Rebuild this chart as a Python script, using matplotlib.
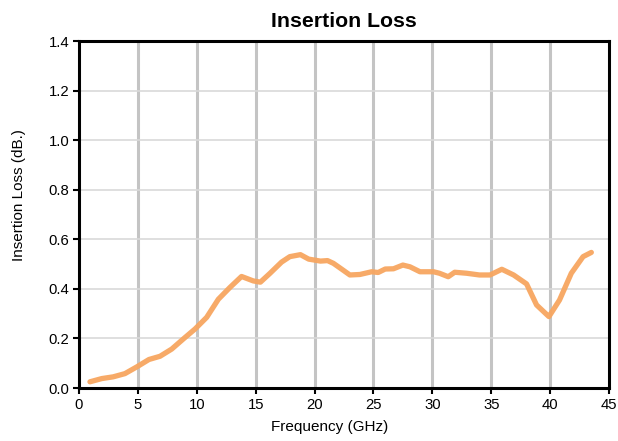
import matplotlib
matplotlib.use("Agg")
import matplotlib.pyplot as plt

plt.rcParams['font.family'] = ['Liberation Sans', 'DejaVu Sans']

freq = [0.93, 1.93, 2.9, 3.9, 4.9, 5.94, 6.88, 7.87, 8.86, 9.85, 10.84, 11.83, 12.8,
        13.8, 14.8, 15.4, 16.2, 17.2, 17.9, 18.8, 19.5, 20.5, 21.1, 21.6, 22.2, 23.0,
        23.85, 24.85, 25.4, 26.0, 26.7, 27.5, 28.1, 28.95, 30.1, 30.6, 31.35, 31.9,
        32.9, 34.0, 34.9, 35.9, 36.9, 38.0, 38.85, 39.9, 40.8, 41.8, 42.8, 43.5]
loss = [0.025, 0.038, 0.045, 0.058, 0.085, 0.115, 0.128, 0.157, 0.198, 0.238, 0.285,
        0.358, 0.405, 0.45, 0.432, 0.427, 0.462, 0.508, 0.53, 0.538, 0.52, 0.512,
        0.514, 0.503, 0.483, 0.456, 0.458, 0.469, 0.466, 0.48, 0.481, 0.496, 0.489,
        0.469, 0.469, 0.463, 0.449, 0.467, 0.463, 0.456, 0.456, 0.479, 0.456, 0.42,
        0.335, 0.288, 0.355, 0.463, 0.53, 0.547]

xticks = [0, 5, 10, 15, 20, 25, 30, 35, 40, 45]
yticks = [0.0, 0.2, 0.4, 0.6, 0.8, 1.0, 1.2, 1.4]

fig = plt.figure(figsize=(6.18, 4.41), dpi=100)
ax = fig.add_axes([79/618, 1-388/441, (609-79)/618, (388-41)/441])

for x in xticks[1:-1]:
    ax.axvline(x, color='#c4c4c4', lw=2.2, zorder=1)
for y in yticks[1:-1]:
    ax.axhline(y, color='#d9d9d9', lw=1.2, zorder=1)

ax.plot(freq, loss, color='#F7A660', lw=3.8, alpha=0.95, solid_capstyle='round',
        solid_joinstyle='round', zorder=3)

ax.set_xlim(0, 45)
ax.set_ylim(0, 1.4)
ax.set_xticks(xticks)
ax.set_xticklabels([str(v) for v in xticks])
ax.set_yticks(yticks)
ax.set_yticklabels([f"{v:.1f}" for v in yticks])
ax.tick_params(direction='out', length=4, width=1.5, labelsize=10.7, colors='black', pad=3)

for s in ax.spines.values():
    s.set_linewidth(2.2)
    s.set_color('black')
    s.set_zorder(4)

ax.set_xlabel('Frequency (GHz)', fontsize=11)
ax.xaxis.label.set_verticalalignment('center')
ax.xaxis.set_label_coords((330-79)/530, (388-427)/347)

ax.set_ylabel('Insertion Loss (dB.)', fontsize=11)
ax.yaxis.label.set_verticalalignment('center')
ax.yaxis.set_label_coords((19-79)/530, (388-195.5)/347)

ax.set_title('Insertion Loss', fontsize=15.3, fontweight='bold', pad=10)

fig.savefig('out.png', dpi=100)
